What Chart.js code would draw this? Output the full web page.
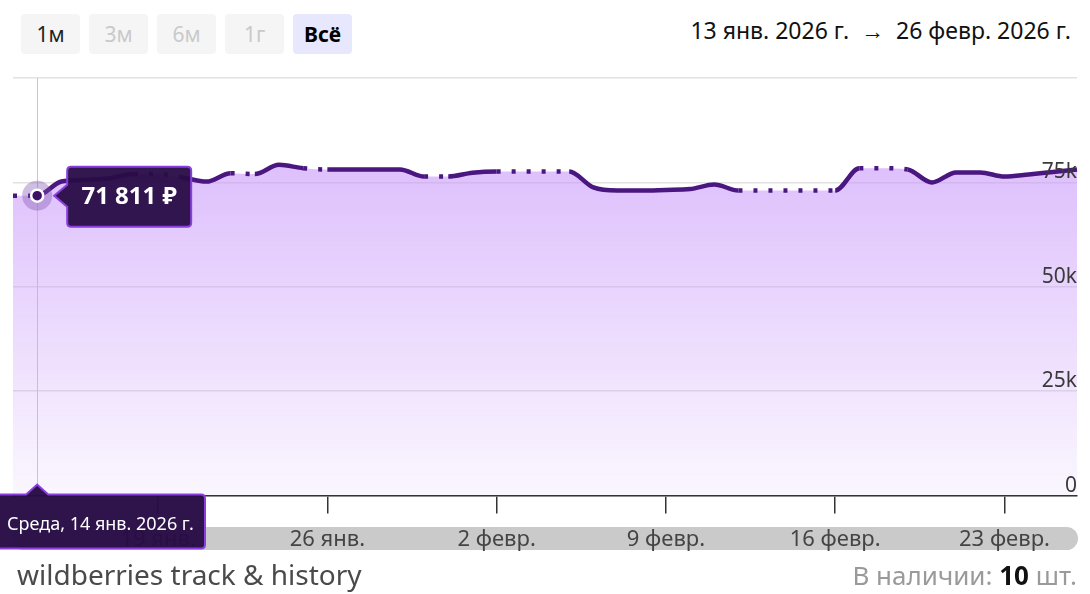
<!DOCTYPE html>
<html>
<head>
<meta charset="utf-8">
<script src="https://cdn.jsdelivr.net/npm/chart.js@4"></script>
<style>
    html, body { margin: 0; padding: 0; background: #fff; }
    body { width: 1090px; height: 594px; position: relative; overflow: hidden; font-family: 'Noto Sans', 'Open Sans', sans-serif; }
    .btn { position: absolute; top: 14px; width: 59px; height: 40px; border-radius: 4px; background: #f5f5f5;
           font-size: 21px; line-height: 40px; text-align: center; color: #c9c9c9; }
    .btn.on { color: #222; }
    .btn.all { background: #e7e7fd; color: #000; font-weight: bold; }
    #range { position: absolute; top: 14px; right: 19px; font-size: 23px; color: #111; white-space: pre; }
    #band { position: absolute; left: 12px; top: 527px; width: 1066px; height: 23px; border-radius: 12px; background: #cacaca; }
    #chart-box { position: absolute; left: 0; top: 0; width: 1090px; height: 594px; }
    #brand { position: absolute; left: 17px; top: 555px; font-size: 28px; color: #4a4a4a; }
    #stock { position: absolute; right: 13px; top: 557px; font-size: 26px; color: #9a9a9a; }
    #stock b { color: #111; }
</style>
</head>
<body>
<div class="btn on" style="left:21px">1м</div>
<div class="btn" style="left:89px">3м</div>
<div class="btn" style="left:157px">6м</div>
<div class="btn" style="left:225px">1г</div>
<div class="btn all" style="left:293px">Всё</div>
<div id="range">13 янв. 2026 г.  →  26 февр. 2026 г.</div>
<div id="band"></div>
<div id="chart-box"><canvas id="priceChart"></canvas></div>
<div id="brand">wildberries track &amp; history</div>
<div id="stock">В наличии: <b>10</b> шт.</div>

<script>
// one label per day, 13 Jan .. 26 Feb 2026
const days = [
    '13 янв.', '14 янв.', '15 янв.', '16 янв.', '17 янв.', '18 янв.', '19 янв.', '20 янв.', '21 янв.',
    '22 янв.', '23 янв.', '24 янв.', '25 янв.', '26 янв.', '27 янв.', '28 янв.', '29 янв.', '30 янв.',
    '31 янв.', '1 февр.', '2 февр.', '3 февр.', '4 февр.', '5 февр.', '6 февр.', '7 февр.', '8 февр.',
    '9 февр.', '10 февр.', '11 февр.', '12 февр.', '13 февр.', '14 февр.', '15 февр.', '16 февр.',
    '17 февр.', '18 февр.', '19 февр.', '20 февр.', '21 февр.', '22 февр.', '23 февр.', '24 февр.',
    '25 февр.', '26 февр.'
];

const prices = [
    71811, 71811, 75200, 75600, 76000, 77000, 77000, 76200, 75200, 77200,
    77000, 79200, 78400, 78100, 78100, 78100, 78100, 76400, 76400, 77300,
    77600, 77600, 77600, 77600, 73800, 73050, 73050, 73200, 73400, 74500,
    73050, 73050, 73050, 73050, 73050, 78400, 78400, 78100, 75000, 77400,
    77400, 76400, 76900, 77500, 78100
];

// segments starting at these days are drawn dotted (no fresh data)
const gapDays = [0, 5, 6, 9, 12, 17, 20, 21, 22, 30, 31, 32, 33, 35, 36];

const tickDays = ['19 янв.', '26 янв.', '2 февр.', '9 февр.', '16 февр.', '23 февр.'];
const yTicks = [0, 25000, 50000, 75000];

const hoverIndex = 1;
const hoverDate = 'Среда, 14 янв. 2026 г.';

const FONT = "'Noto Sans', 'Open Sans', sans-serif";

const yLabel = (v) => v === 0 ? '0' : (v / 1000) + 'k';

// y labels sit on top of the filled area
const yLabelsOnTop = {
    id: 'yLabelsOnTop',
    afterDatasetsDraw(chart) {
        const ctx = chart.ctx;
        const y = chart.scales.y;
        ctx.save();
        ctx.fillStyle = '#3a3a3a';
        ctx.font = '21px ' + FONT;
        ctx.textAlign = 'right';
        ctx.textBaseline = 'middle';
        yTicks.forEach(v => {
            ctx.fillText(yLabel(v), chart.chartArea.right, y.getPixelForValue(v) - 10);
        });
        ctx.restore();
    }
};

const hoverMarker = {
    id: 'hoverMarker',
    beforeDatasetsDraw(chart) {
        const ctx = chart.ctx;
        const pt = chart.getDatasetMeta(0).data[hoverIndex];
        const area = chart.chartArea;
        ctx.save();
        ctx.strokeStyle = '#c9c9c9';
        ctx.lineWidth = 1;
        ctx.beginPath();
        ctx.moveTo(Math.round(pt.x) + 0.5, area.top);
        ctx.lineTo(Math.round(pt.x) + 0.5, area.bottom);
        ctx.stroke();
        ctx.restore();
    },
    afterDraw(chart) {
        const ctx = chart.ctx;
        const pt = chart.getDatasetMeta(0).data[hoverIndex];
        const area = chart.chartArea;
        ctx.save();

        // halo + point
        ctx.fillStyle = 'rgba(125, 85, 175, 0.38)';
        ctx.beginPath();
        ctx.arc(pt.x, pt.y, 15, 0, Math.PI * 2);
        ctx.fill();
        ctx.fillStyle = '#3b0f66';
        ctx.strokeStyle = '#fff';
        ctx.lineWidth = 2.5;
        ctx.beginPath();
        ctx.arc(pt.x, pt.y, 6, 0, Math.PI * 2);
        ctx.fill();
        ctx.stroke();

        // price box
        const bx = pt.x + 30, by = pt.y - 29, bw = 124, bh = 60;
        ctx.beginPath();
        ctx.moveTo(bx + 4, by);
        ctx.lineTo(bx + bw - 4, by);
        ctx.quadraticCurveTo(bx + bw, by, bx + bw, by + 4);
        ctx.lineTo(bx + bw, by + bh - 4);
        ctx.quadraticCurveTo(bx + bw, by + bh, bx + bw - 4, by + bh);
        ctx.lineTo(bx + 4, by + bh);
        ctx.quadraticCurveTo(bx, by + bh, bx, by + bh - 4);
        ctx.lineTo(bx, pt.y + 11);
        ctx.lineTo(pt.x + 17, pt.y);
        ctx.lineTo(bx, pt.y - 11);
        ctx.lineTo(bx, by + 4);
        ctx.quadraticCurveTo(bx, by, bx + 4, by);
        ctx.closePath();
        ctx.fillStyle = 'rgba(40, 12, 70, 0.95)';
        ctx.fill();
        ctx.strokeStyle = '#8a3ee0';
        ctx.lineWidth = 2;
        ctx.stroke();
        ctx.fillStyle = '#fff';
        ctx.font = 'bold 24px ' + FONT;
        ctx.textAlign = 'center';
        ctx.textBaseline = 'middle';
        ctx.fillText(prices[hoverIndex].toLocaleString('ru-RU') + ' ₽', bx + bw / 2, pt.y + 1);

        // date box under the axis
        const dx = -3, dy = area.bottom - 1, dw = 208, dh = 54;
        ctx.beginPath();
        ctx.moveTo(dx, dy);
        ctx.lineTo(pt.x - 11, dy);
        ctx.lineTo(pt.x, dy - 10);
        ctx.lineTo(pt.x + 11, dy);
        ctx.lineTo(dx + dw - 4, dy);
        ctx.quadraticCurveTo(dx + dw, dy, dx + dw, dy + 4);
        ctx.lineTo(dx + dw, dy + dh - 4);
        ctx.quadraticCurveTo(dx + dw, dy + dh, dx + dw - 4, dy + dh);
        ctx.lineTo(dx, dy + dh);
        ctx.closePath();
        ctx.fillStyle = 'rgba(40, 12, 70, 0.97)';
        ctx.fill();
        ctx.strokeStyle = '#8a3ee0';
        ctx.stroke();
        ctx.fillStyle = '#fff';
        ctx.font = '18px ' + FONT;
        ctx.textAlign = 'left';
        ctx.fillText(hoverDate, 7, dy + 30);

        ctx.restore();
    }
};

const ctx = document.getElementById('priceChart').getContext('2d');

new Chart(ctx, {
    type: 'line',
    data: {
        labels: days,
        datasets: [
            {
                data: prices,
                order: 1,
                borderColor: '#4a1680',
                borderWidth: 4.5,
                borderCapStyle: 'butt',
                pointRadius: 0,
                cubicInterpolationMode: 'monotone',
                fill: false,
                segment: {
                    borderDash: (s) => gapDays.includes(s.p0DataIndex) ? [4, 11] : undefined
                }
            },
            {
                // area under the price line
                data: prices,
                order: 2,
                borderWidth: 0,
                borderColor: 'rgba(0,0,0,0)',
                pointRadius: 0,
                cubicInterpolationMode: 'monotone',
                fill: 'start',
                backgroundColor: (c) => {
                    const area = c.chart.chartArea;
                    if (!area) return 'rgba(205,160,250,0.4)';
                    const g = c.chart.ctx.createLinearGradient(0, area.top + 90, 0, area.bottom);
                    g.addColorStop(0, 'rgba(200, 150, 250, 0.6)');
                    g.addColorStop(1, 'rgba(200, 150, 250, 0.08)');
                    return g;
                }
            }
        ]
    },
    options: {
        responsive: true,
        maintainAspectRatio: false,
        animation: false,
        events: [],
        layout: { padding: { top: 78, left: 10, right: 12, bottom: 28 } },
        scales: {
            x: {
                ticks: {
                    autoSkip: false,
                    maxRotation: 0,
                    padding: 13,
                    color: '#444',
                    font: { family: FONT, size: 22 },
                    callback: (v, i) => tickDays.includes(days[i]) ? days[i] : ''
                },
                grid: {
                    drawOnChartArea: false,
                    tickLength: 18,
                    lineWidth: 1.5,
                    color: (c) => (c.tick && tickDays.includes(days[c.index])) ? '#333' : 'rgba(0,0,0,0)'
                },
                border: { display: true, color: '#333', width: 1.5 }
            },
            y: {
                position: 'right',
                min: 0,
                max: 100000,
                afterBuildTicks: (axis) => {
                    axis.ticks = yTicks.concat([100000]).map(v => ({ value: v }));
                },
                ticks: {
                    mirror: true,
                    padding: 0,
                    color: 'rgba(0,0,0,0)',
                    font: { family: FONT, size: 21 },
                    callback: (v) => yTicks.includes(v) ? yLabel(v) : ''
                },
                grid: { color: '#e2e2e2', lineWidth: 1.5, drawTicks: false },
                border: { display: false }
            }
        },
        plugins: {
            legend: { display: false },
            tooltip: { enabled: false }
        }
    },
    plugins: [yLabelsOnTop, hoverMarker]
});
</script>
</body>
</html>
